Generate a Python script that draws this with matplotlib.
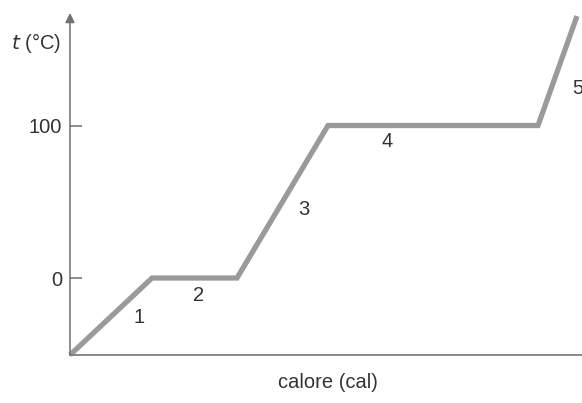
import matplotlib.pyplot as plt

# dati della curva di riscaldamento (calore in unità arbitrarie)
calore = [0, 8.2, 16.7, 25.8, 46.8, 50.7]
temperatura = [-50.5, 0, 0, 100, 100, 171.8]

# etichette dei tratti
tratti = ["1", "2", "3", "4", "5"]
tratti_x = [6.9, 12.9, 23.4, 31.7, 50.8]
tratti_y = [-26.2, -11.8, 45.2, 89.8, 124.6]

yticks = [0, 100]
ytick_labels = ["0", "100"]

plt.rcParams['font.family'] = ['Liberation Sans', 'DejaVu Sans']
fs = 14.5

fig = plt.figure(figsize=(5.82, 4.03), dpi=100)
ax = fig.add_axes([70 / 582, 48 / 403, 1 - 70 / 582, (355 - 13) / 403])

ax.plot(calore, temperatura, color='#9a9a9a', lw=3.8,
        solid_capstyle='butt', solid_joinstyle='miter', clip_on=False)

for lab, x, y in zip(tratti, tratti_x, tratti_y):
    ax.text(x, y, lab, ha='center', va='center', fontsize=fs, color='#333333')

ax.set_xlim(0, 51.2)
ax.set_ylim(-50.5, 173.8)

for s in ['top', 'right', 'left']:
    ax.spines[s].set_visible(False)
ax.spines['bottom'].set_color('#808080')
ax.spines['bottom'].set_linewidth(1.3)

# asse y con freccia
ax.annotate('', xy=(0, 1), xytext=(0, 0), xycoords='axes fraction',
            arrowprops=dict(arrowstyle='-|>', color='#707070', lw=1.1,
                            mutation_scale=14, shrinkA=0, shrinkB=0))

ax.set_xticks([])
ax.set_yticks(yticks)
ax.set_yticklabels(ytick_labels)
ax.tick_params(axis='y', direction='in', length=8.6, width=1.1, color='#707070',
               pad=5.8, labelsize=fs, labelcolor='#333333')

fig.text(61 / 582, 1 - 43 / 403, r'$\it{t}$ (°C)', ha='right', va='center',
         fontsize=fs, color='#333333')
fig.text(328 / 582, 1 - 383 / 403, 'calore (cal)', ha='center', va='center',
         fontsize=fs, color='#333333')

fig.savefig('out.png', dpi=100)
